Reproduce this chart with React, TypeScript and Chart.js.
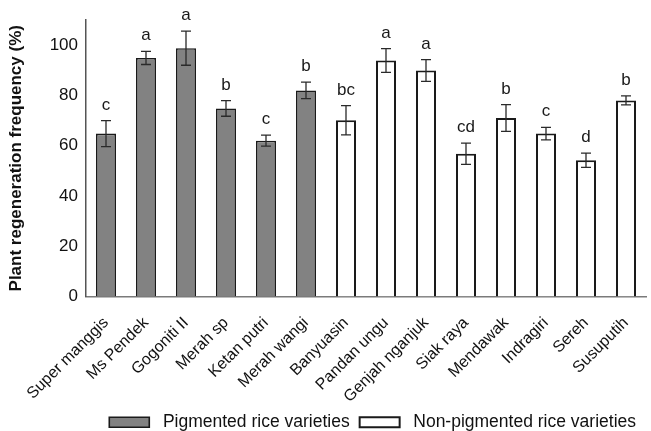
import React, { useEffect, useRef } from "react";
import { Chart, registerables } from "chart.js";

Chart.register(...registerables);

const categories = [
  "Super manggis", "Ms Pendek", "Gogoniti II", "Merah sp", "Ketan putri", "Merah wangi",
  "Banyuasin", "Pandan ungu", "Genjah nganjuk", "Siak raya", "Mendawak", "Indragiri", "Sereh", "Susuputih",
];
const pigmentedValues = [64.8, 94.9, 98.8, 74.8, 62.0, 82.0, null, null, null, null, null, null, null, null];
const nonPigmentedValues = [null, null, null, null, null, null, 70.1, 93.9, 89.9, 56.8, 71.0, 64.8, 54.2, 78.0];
const errorValues = [5.2, 2.6, 6.8, 3.1, 2.2, 3.3, 5.8, 4.7, 4.3, 4.2, 5.3, 2.5, 2.8, 1.8];
const letterLabels = ["c", "a", "a", "b", "c", "b", "bc", "a", "a", "cd", "b", "c", "d", "b"];
const yTicks = [0, 20, 40, 60, 80, 100];

const FONT = "'Liberation Sans', Arial, sans-serif";

const errorPlugin = {
  id: "errorLetters",
  afterDatasetsDraw(chart: any) {
    const ctx = chart.ctx;
    const xs = chart.scales.x;
    const ys = chart.scales.y;
    ctx.save();
    categories.forEach((_, i) => {
      const v = pigmentedValues[i] ?? nonPigmentedValues[i];
      if (v == null) return;
      const e = errorValues[i];
      const x = xs.getPixelForValue(i);
      const yTop = ys.getPixelForValue(v + e);
      const yBot = ys.getPixelForValue(v - e);
      ctx.strokeStyle = "#2a2a2a";
      ctx.lineWidth = 1.3;
      ctx.beginPath();
      ctx.moveTo(x, yTop);
      ctx.lineTo(x, yBot);
      ctx.moveTo(x - 5, yTop);
      ctx.lineTo(x + 5, yTop);
      ctx.moveTo(x - 5, yBot);
      ctx.lineTo(x + 5, yBot);
      ctx.stroke();
      ctx.fillStyle = "#1a1a1a";
      ctx.font = `17px ${FONT}`;
      ctx.textAlign = "center";
      ctx.textBaseline = "alphabetic";
      ctx.fillText(letterLabels[i], x, yTop - 11);
    });
    ctx.restore();
  },
};

export default function App() {
  const ref = useRef<HTMLCanvasElement>(null);
  useEffect(() => {
    if (!ref.current) return;
    Chart.defaults.font.family = FONT;
    const chart = new Chart(ref.current, {
      type: "bar",
      data: {
        labels: categories,
        datasets: [
          {
            label: " Pigmented rice varieties",
            data: pigmentedValues as any,
            backgroundColor: "#828282",
            borderColor: "#1a1a1a",
            borderWidth: 1.6,
            grouped: false,
            barPercentage: 0.5,
            categoryPercentage: 1,
          },
          {
            label: " Non-pigmented rice varieties",
            data: nonPigmentedValues as any,
            backgroundColor: "#ffffff",
            borderColor: "#1a1a1a",
            borderWidth: 2,
            grouped: false,
            barPercentage: 0.5,
            categoryPercentage: 1,
          },
        ],
      },
      options: {
        responsive: false,
        animation: false,
        layout: { padding: { left: 4, right: 5, top: 20, bottom: -10 } },
        plugins: {
          tooltip: { enabled: false },
          legend: {
            position: "bottom",
            align: "end",
            labels: {
              boxWidth: 40,
              boxHeight: 10,
              padding: 10,
              color: "#111",
              font: { size: 17.5, family: FONT },
            },
          },
        },
        scales: {
          x: {
            afterFit: (s: any) => {
              s.height = 107;
              s.paddingLeft = 0;
              s.paddingRight = 0;
            },
            grid: { display: false, drawTicks: false },
            border: { display: true, color: "#7a7a7a", width: 1.5 },
            ticks: {
              minRotation: 45,
              maxRotation: 45,
              padding: 17,
              color: "#111",
              font: { size: 16, family: FONT },
            },
          },
          y: {
            min: 0,
            max: 110,
            afterFit: (s: any) => {
              s.width = 82;
              s.paddingTop = 0;
              s.paddingBottom = 0;
            },
            afterBuildTicks: (s: any) => {
              s.ticks = [...yTicks.map((v) => ({ value: v })), { value: 110 }];
            },
            grid: { display: false, drawTicks: false },
            border: { display: true, color: "#555", width: 1.5 },
            ticks: {
              padding: 8,
              color: "#111",
              font: { size: 17, family: FONT },
              callback: (v: any) => (yTicks.includes(Number(v)) ? String(v) : ""),
            },
            title: {
              display: true,
              text: "Plant regeneration frequency (%)",
              color: "#111",
              font: { size: 17, weight: "bold", family: FONT },
              padding: { top: 2, bottom: 0 },
            },
          },
        },
      },
      plugins: [errorPlugin],
    });
    return () => chart.destroy();
  }, []);
  return (
    <div style={{ position: "fixed", left: 0, top: 0, width: 651, height: 431, background: "#fff" }}>
      <canvas ref={ref} width={651} height={431} style={{ display: "block" }} />
    </div>
  );
}
